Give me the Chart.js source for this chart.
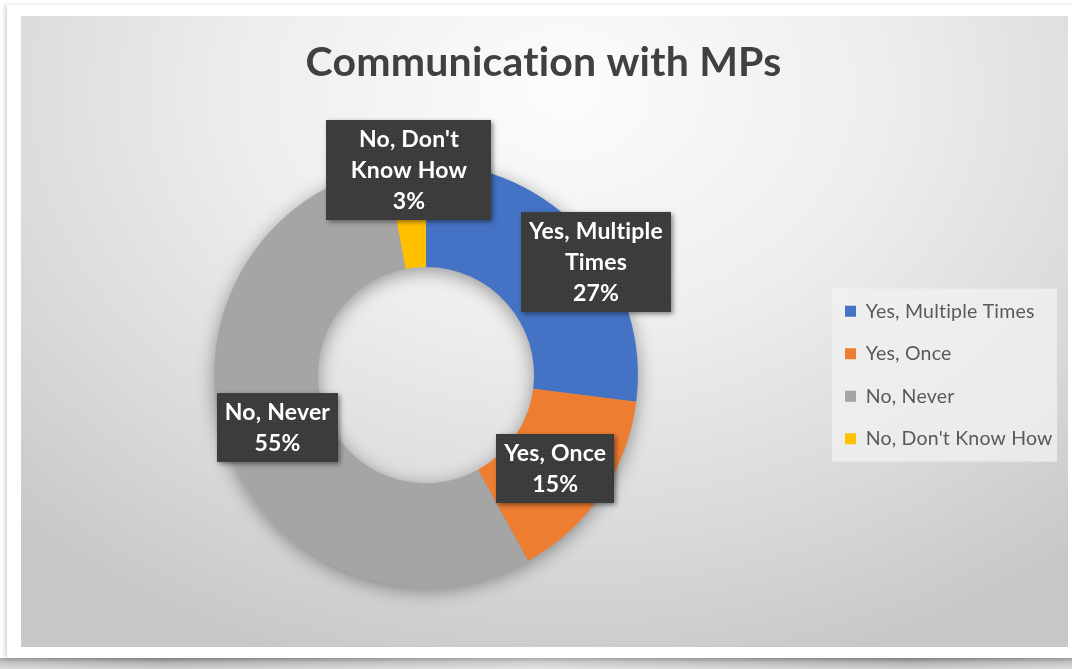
<!DOCTYPE html>
<html>
<head>
<meta charset="utf-8">
<title>Communication with MPs</title>
<script src="https://cdn.jsdelivr.net/npm/chart.js@4.4.0/dist/chart.umd.min.js"></script>
<style>
  html, body { margin: 0; padding: 0; background: #fff; width: 1072px; height: 669px; overflow: hidden; }
  .frame {
    position: absolute; left: 7px; top: 5px; width: 1075px; height: 653px; background: #fff;
    box-shadow: -2px 0 4px rgba(0,0,0,0.18);
  }
  .frame-shadow {
    position: absolute; left: 0; top: 658px; width: 1072px; height: 11px;
    background:
      linear-gradient(to right, rgba(255,255,255,0.25), rgba(255,255,255,0) 15%, rgba(255,255,255,0.4) 50%, rgba(255,255,255,0) 85%, rgba(255,255,255,0.25)),
      linear-gradient(to bottom, #8a8a8a, #b3b3b3 45%, #d0d0d0);
  }
  .plot {
    position: absolute; left: 21px; top: 16px; width: 1047px; height: 631px;
    background: radial-gradient(ellipse 75% 95% at 52% 12%, #fcfcfc 0%, #eeeeee 40%, #d9d9d9 75%, #c8c8c8 100%);
  }
  canvas { display: block; }
</style>
</head>
<body>
<div class="frame-shadow"></div>
<div class="frame"></div>
<div class="plot"><canvas id="mp-chart" width="1047" height="631"></canvas></div>
<script>
// survey answers, share of respondents (%)
const categories  = ['Yes, Multiple Times', 'Yes, Once', 'No, Never', "No, Don't Know How"];
const shares      = [27, 15, 55, 3];
const sliceColors = ['#4472C4', '#ED7D31', '#A5A5A5', '#FFC000'];

// dotted dark fill for the callout boxes
const dotFill = (() => {
  const c = document.createElement('canvas');
  c.width = 4; c.height = 4;
  const g = c.getContext('2d');
  g.fillStyle = '#3b3b3b'; g.fillRect(0, 0, 4, 4);
  g.fillStyle = '#4e4e4e'; g.fillRect(1, 1, 1, 1);
  return c;
})();

// soft shadow under the whole ring (shape drawn off-canvas, only the shadow lands)
const ringShadow = {
  id: 'ringShadow',
  beforeDraw(chart) {
    chart.ctx.letterSpacing = '0.2px';
  },
  beforeDatasetsDraw(chart) {
    const arc = chart.getDatasetMeta(0).data[0];
    if (!arc) return;
    const { x, y, outerRadius, innerRadius } = arc.getProps(['x', 'y', 'outerRadius', 'innerRadius'], true);
    const ctx = chart.ctx, far = 4000;
    ctx.save();
    ctx.beginPath();
    ctx.arc(x - far, y, outerRadius, 0, Math.PI * 2);
    ctx.moveTo(x - far + innerRadius, y);
    ctx.arc(x - far, y, innerRadius, 0, Math.PI * 2, true);
    ctx.shadowColor = 'rgba(0,0,0,0.38)';
    ctx.shadowBlur = 18;
    ctx.shadowOffsetX = far;
    ctx.shadowOffsetY = 4;
    ctx.fillStyle = '#000';
    ctx.fill();
    ctx.restore();
  }
};

// light panel behind the legend entries
const legendPanel = {
  id: 'legendPanel',
  beforeInit(chart) {
    const fit = chart.legend.fit;
    chart.legend.fit = function () { fit.call(this); this.width = 235; };
  },
  beforeDraw(chart) {
    const hb = chart.legend && chart.legend.legendHitBoxes;
    if (!hb || !hb.length) return;
    const ctx = chart.ctx;
    const left = hb[0].left - 13, top = hb[0].top - 13;
    const bottom = hb[hb.length - 1].top + hb[hb.length - 1].height + 13;
    ctx.save();
    ctx.fillStyle = 'rgba(242,242,242,0.75)';
    ctx.fillRect(left, top, 225, bottom - top);
    ctx.restore();
  }
};

function wrapWords(ctx, text, maxW) {
  const words = text.split(' ');
  const lines = [];
  let cur = '';
  words.forEach(w => {
    const t = cur ? cur + ' ' + w : w;
    if (cur && ctx.measureText(t).width > maxW) { lines.push(cur); cur = w; }
    else cur = t;
  });
  if (cur) lines.push(cur);
  return lines;
}

// category + percent callouts
const callouts = {
  id: 'callouts',
  afterDatasetsDraw(chart, args, opts) {
    const ctx = chart.ctx;
    const meta = chart.getDatasetMeta(0);
    ctx.save();
    ctx.font = opts.font;
    ctx.textAlign = 'center';
    ctx.textBaseline = 'middle';
    meta.data.forEach((arc, i) => {
      const p = arc.tooltipPosition(true);
      const [nx, ny] = opts.nudge[i];
      const cx = p.x + nx, cy = p.y + ny;
      const lines = wrapWords(ctx, categories[i], opts.wrap[i]);
      lines.push(shares[i] + '%');
      const textW = Math.max(...lines.map(l => ctx.measureText(l).width));
      const w = Math.max(textW + 16, opts.minWidth[i]);
      const h = lines.length * opts.lineHeight + 7;
      const bx = Math.round(cx - w / 2), by = Math.round(cy - h / 2);
      ctx.save();
      ctx.shadowColor = 'rgba(0,0,0,0.45)';
      ctx.shadowBlur = 5;
      ctx.shadowOffsetX = 2;
      ctx.shadowOffsetY = 2;
      ctx.fillStyle = ctx.createPattern(dotFill, 'repeat');
      ctx.fillRect(bx, by, Math.round(w), Math.round(h));
      ctx.restore();
      ctx.fillStyle = '#ffffff';
      lines.forEach((l, k) => {
        ctx.fillText(l, cx, by + 4 + opts.lineHeight * (k + 0.5));
      });
    });
    ctx.restore();
  }
};

new Chart(document.getElementById('mp-chart'), {
  type: 'doughnut',
  data: {
    labels: categories,
    datasets: [{
      data: shares,
      backgroundColor: sliceColors,
      borderWidth: 0,
      hoverOffset: 0
    }]
  },
  options: {
    responsive: false,
    animation: false,
    events: [],
    cutout: '51%',
    layout: { padding: { left: 9, right: 11, top: 0, bottom: 60 } },
    plugins: {
      title: {
        display: true,
        text: 'Communication with MPs',
        color: '#404040',
        font: { family: 'Lato', size: 41, weight: 'bold' },
        padding: { top: 22, bottom: 76 }
      },
      legend: {
        position: 'right',
        align: 'center',
        fullSize: false,
        labels: {
          color: '#595959',
          font: { family: 'Lato', size: 19.5 },
          boxWidth: 11,
          boxHeight: 11,
          padding: 23
        }
      },
      tooltip: { enabled: false },
      callouts: {
        font: 'bold 23px Lato',
        lineHeight: 31,
        wrap: [140, 130, 130, 125],
        minWidth: [0, 0, 0, 165],
        nudge: [[50, -7], [-3, 3], [2, -2], [-2, -46]]
      }
    }
  },
  plugins: [ringShadow, legendPanel, callouts]
});
</script>
</body>
</html>
